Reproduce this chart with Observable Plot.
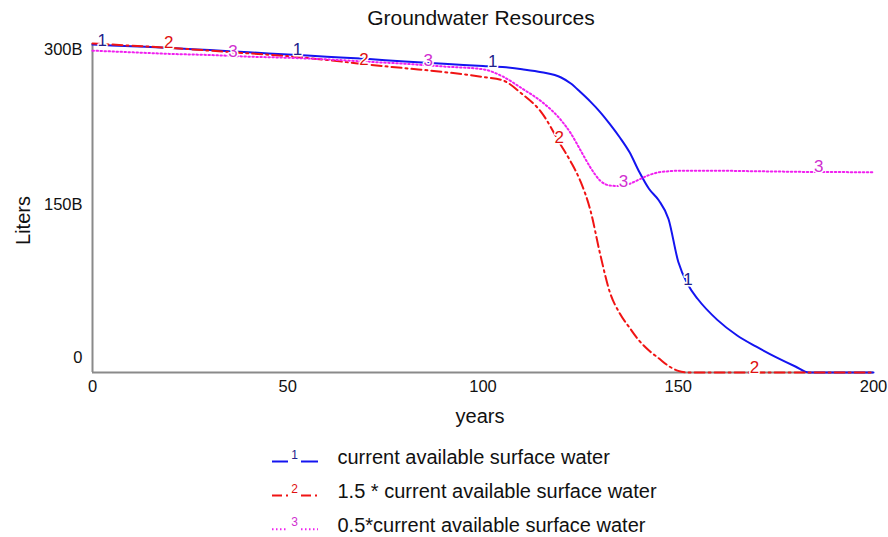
<!DOCTYPE html>
<html><head><meta charset="utf-8">
<script src="https://cdn.jsdelivr.net/npm/d3@7"></script>
<script src="https://cdn.jsdelivr.net/npm/@observablehq/plot@0.6"></script>
<style>
body{margin:0;background:#fff;font-family:"Liberation Sans",Arial,sans-serif;}
#wrap{position:relative;width:888px;height:537px;background:#fff;}
#title{position:absolute;left:0;top:0;width:888px;height:34px;line-height:36px;font-size:21px;text-align:center;padding-left:74px;box-sizing:border-box;color:#111;z-index:2;pointer-events:none;}
#chart{position:absolute;left:0;top:0;z-index:1;}
#legend{position:absolute;left:0;top:436px;}
</style></head><body>
<div id="wrap"><div id="chart"></div><div id="title">Groundwater Resources</div><div id="legend"></div></div>
<script>
// ---- data (values in billions of liters) ----
const years = [0,10,20,30,40,50,60,70,80,90,100,105,110,115,120,122.5,125,127.5,130,132.5,135,137.5,140,142.5,145,147.5,150,152.5,155,160,165,170,175,180,183.5,190,200];
const s1 = [299,297.5,296,294,292,290,288,286,283.5,281.5,279.5,278.5,276.5,273.8,269,263.5,255.5,247,237.5,226.5,214.5,201,183,167.5,157,140,101,80,67,48,34,23.5,14,5.5,0,0,0];
const s2 = [300,298,296,293.5,291,288.5,285,281,277.5,274,269.5,266.5,254,237,207,192,174,148,108,73,54,41,29,20,13,6,1.5,0,0,0,0,0,0,0,0,0,0];
const s3 = [293.5,292,290.5,289.5,288,287,285.5,283.5,281.5,279,276.5,270,259,247,230,218,202.5,187,175,170.5,170,172,176,180,182.5,183.5,184,184,184,184,183.8,183.5,183.3,183,182.9,182.8,182.5];
const seriesNames = ["current available surface water","1.5 * current available surface water","0.5*current available surface water"];
const seriesIds = ["1","2","3"];
// number labels along the lines (year, value)
const m1Years = [2.5,52.5,102.5,152.5], m1Vals = [298.5,289.5,279,80];
const m2Years = [19.5,69.5,119.5,169.5], m2Vals = [296,281,210,0];
const m3Years = [36,86,136,186], m3Vals = [288.5,280,170,182.8];
const xTicks = [0,50,100,150,200];
const yTicks = [0,150,300];
const yDomain = [0,300];
const xDomain = [0,200];

// ---- styles ----
const colors = ["#1414f0","#f01414","#f020f0"];
const labelColors = ["#22228c","#e01010","#d030d0"];
const dashes = [null,"10,4,2,4","1.5,2.5"];
const font = "'Liberation Sans', Arial, sans-serif";

const series = [s1,s2,s3].map(s => years.map((t,i)=>({year:t, v:s[i]})));
const markers = [[m1Years,m1Vals],[m2Years,m2Vals],[m3Years,m3Vals]].map(([ys,vs]) => ys.map((t,i)=>({year:t, v:vs[i]})));
const fmt = d => d === 0 ? "0" : d + "B";
const tickDy = d => d === yDomain[1] ? 6 : d === yDomain[0] ? -14.5 : -3.5;

const marks = [
  Plot.ruleY([0], {stroke:"#8a8a8a", strokeWidth:2}),
  Plot.ruleX([0], {stroke:"#8a8a8a", strokeWidth:2})
];
series.forEach((d,k) => {
  marks.push(Plot.line(d, {x:"year", y:"v", stroke:colors[k], strokeWidth:2, strokeDasharray:dashes[k] || undefined, curve:"monotone-x"}));
});
markers.forEach((d,k) => {
  marks.push(Plot.text(d, {x:"year", y:"v", text:() => seriesIds[k], fill:labelColors[k], stroke:"white", strokeWidth:3, paintOrder:"stroke", fontSize:17, dy:-5}));
});
marks.push(Plot.axisX({ticks:xTicks, tickSize:0, tickPadding:8, label:null, fontSize:16.5}));
yTicks.forEach(t => {
  marks.push(Plot.axisY({ticks:[t], tickFormat:fmt, tickSize:0, tickPadding:10, dy:tickDy(t), label:null, fontSize:16.5}));
});
marks.push(Plot.text(["Liters"], {frameAnchor:"left", text:d=>d, rotate:-90, textAnchor:"middle", lineAnchor:"middle", dx:-69, dy:12.5, fontSize:20, fill:"#111"}));
marks.push(Plot.text(["years"], {frameAnchor:"bottom", text:d=>d, textAnchor:"middle", lineAnchor:"middle", dx:-3, dy:44.5, fontSize:20, fill:"#111"}));

const chart = Plot.plot({
  width:888, height:436,
  marginLeft:92, marginRight:15, marginTop:43, marginBottom:64,
  x:{domain:xDomain},
  y:{domain:yDomain},
  style:{fontFamily:font, fontSize:"16px", color:"#111", background:"white"},
  marks
});
document.getElementById("chart").appendChild(chart);

// ---- legend ----
const lg = d3.select("#legend").append("svg").attr("width",888).attr("height",101)
  .style("font-family", font);
const baselines = [28,62,95.7];
seriesNames.forEach((name,k) => {
  const b = baselines[k];
  const g = lg.append("g");
  [[272,288],[301,318]].forEach(([a,c]) => {
    g.append("line").attr("x1",a).attr("x2",c).attr("y1",b-2.5).attr("y2",b-2.5)
      .attr("stroke",colors[k]).attr("stroke-width",2)
      .attr("stroke-dasharray", dashes[k]);
  });
  g.append("text").attr("x",294.5).attr("y",b-5.5).attr("text-anchor","middle")
    .attr("font-size",12).attr("fill",labelColors[k]).text(seriesIds[k]);
  g.append("text").attr("x",337.5).attr("y",b).attr("font-size",20).attr("fill","#111").text(name);
});
</script>
</body></html>
